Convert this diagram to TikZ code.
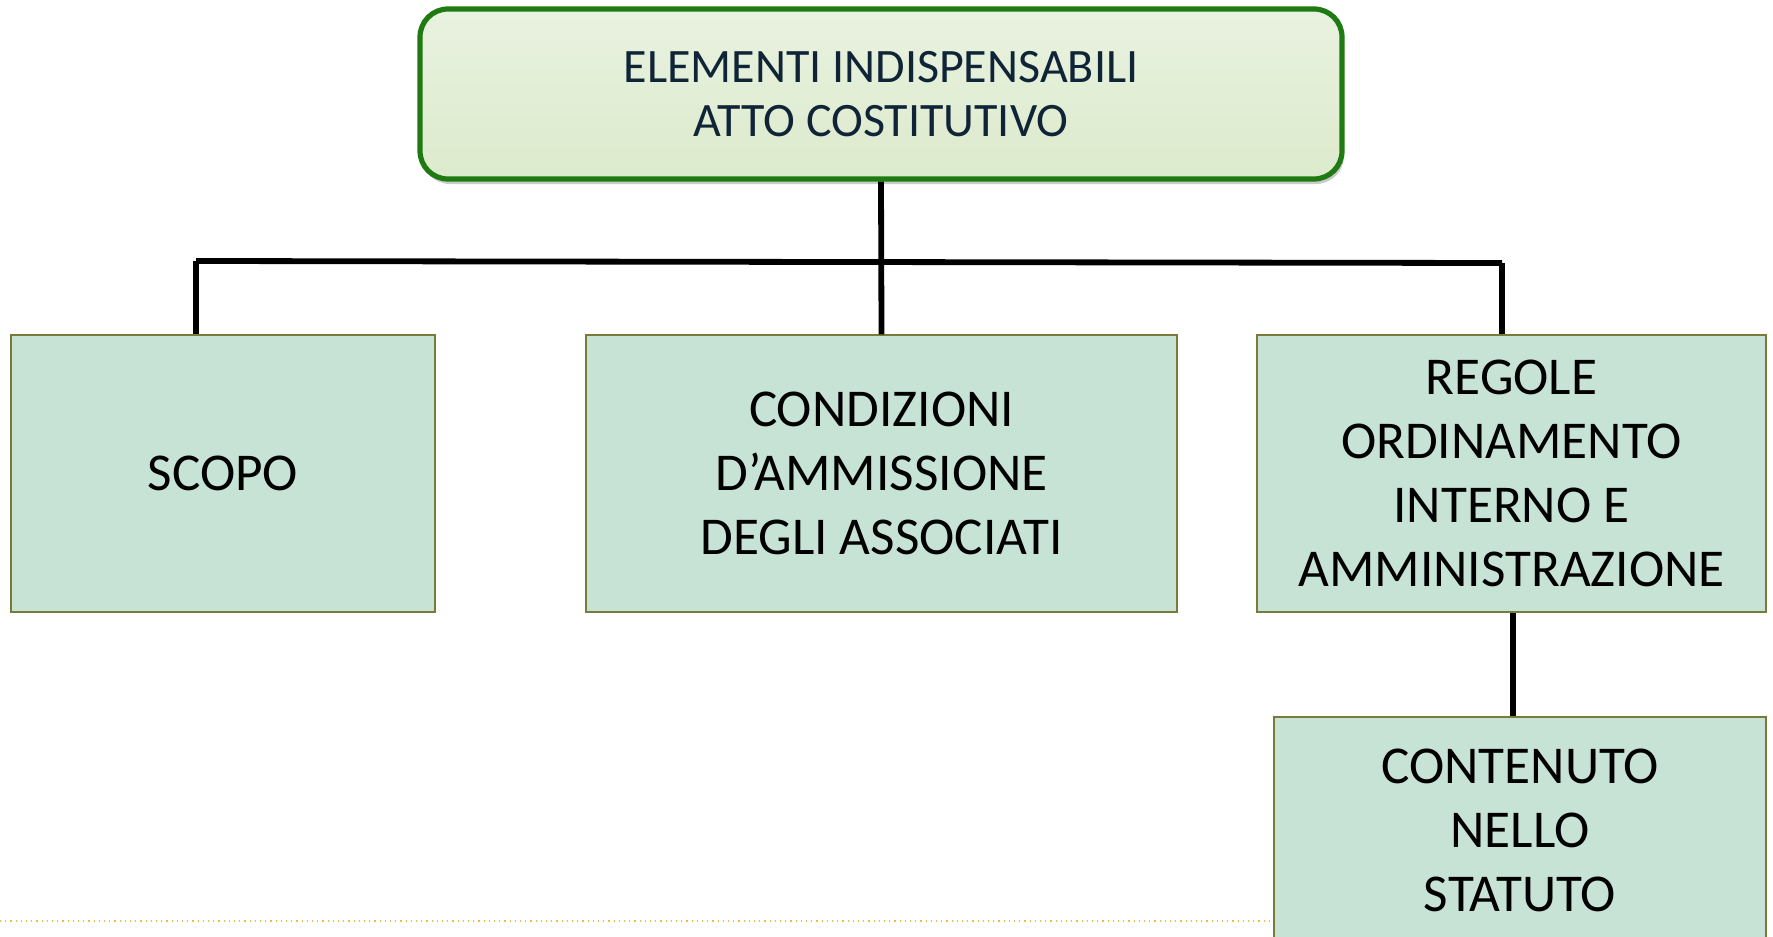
\documentclass[tikz,border=0pt]{standalone}
\usepackage{fontspec}
\setmainfont{Carlito}
\usetikzlibrary{shadows}
\definecolor{topfill}{HTML}{DCEACC}
\definecolor{topfilltop}{HTML}{E9F2E0}
\definecolor{topborder}{HTML}{1F7A12}
\definecolor{topText}{HTML}{0F2436}
\definecolor{boxfill}{HTML}{C7E3D6}
\definecolor{boxborder}{HTML}{7A7A3A}
\definecolor{dotline}{HTML}{F5B942}
\tikzset{
  headbox/.style={draw=topborder, line width=2.6pt, rounded corners=14pt,
    top color=topfilltop, bottom color=topfill, minimum width=461pt, minimum height=85pt,
    align=center, text=topText, font=\fontsize{24}{27}\selectfont,
    drop shadow={shadow xshift=1pt, shadow yshift=-2.5pt, fill=black!40, opacity=0.5}},
  leafbox/.style={draw=boxborder, line width=0.6pt, fill=boxfill, align=center,
    font=\fontsize{26.6}{32}\selectfont, inner sep=0pt},
  conn/.style={line width=2.9pt, black}
}
\begin{document}
\begin{tikzpicture}[x=0.5pt,y=-0.5pt]
\useasboundingbox (0,0) rectangle (1773,937);
\fill[white] (0,0) rectangle (1773,937);
\draw[dotline, line width=0.6pt, dotted] (0,921) -- (1274,921);
\node[headbox] (top) at (881,94) {ELEMENTI INDISPENSABILI\\ATTO COSTITUTIVO};
\node[leafbox, minimum width=212pt, minimum height=138.5pt] (scopo) at (223,473.5) {SCOPO};
\node[leafbox, minimum width=295.5pt, minimum height=138.5pt] (cond) at (881.5,473.5) {CONDIZIONI\\D’AMMISSIONE\\DEGLI ASSOCIATI};
\node[leafbox, minimum width=254.5pt, minimum height=138.5pt] (reg) at (1511.5,473.5) {REGOLE\\ORDINAMENTO\\INTERNO E\\AMMINISTRAZIONE};
\node[leafbox, minimum width=246pt, minimum height=113pt] (cont) at (1520,830) {CONTENUTO\\NELLO\\STATUTO};
\coordinate (jl) at (196,261);
\coordinate (jr) at (1502,263);
\draw[conn] (top.south) -- (cond.north);
\draw[conn] (jl) -- (jr);
\draw[conn] (jl) -- (jl |- scopo.north);
\draw[conn] (jr) -- (jr |- reg.north);
\draw[conn] (reg.south -| 1513,0) -- (cont.north -| 1513,0);
\end{tikzpicture}
\end{document}
